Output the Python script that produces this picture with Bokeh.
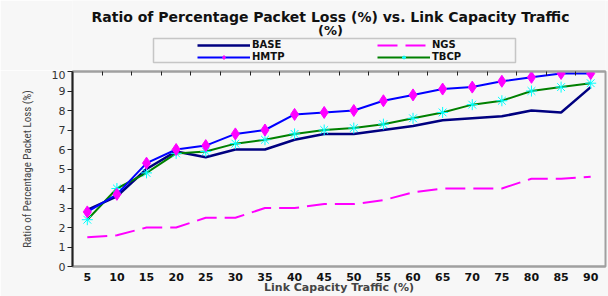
from bokeh.plotting import figure
from bokeh.layouts import column
from bokeh.models import (Range1d, LinearAxis, FixedTicker, Legend, LegendItem, Label,
                          BoxAnnotation)
from bokeh.embed import file_html
from bokeh.resources import INLINE

traffic = [5, 10, 15, 20, 25, 30, 35, 40, 45, 50, 55, 60, 65, 70, 75, 80, 85, 90]
base = [2.9, 3.6, 5.0, 5.9, 5.6, 6.0, 6.0, 6.5, 6.8, 6.8, 7.0, 7.2, 7.5, 7.6, 7.7, 8.0, 7.9, 9.2]
ngs = [1.5, 1.6, 2.0, 2.0, 2.5, 2.5, 3.0, 3.0, 3.2, 3.2, 3.4, 3.8, 4.0, 4.0, 4.0, 4.5, 4.5, 4.6]
hmtp = [2.8, 3.7, 5.3, 6.0, 6.2, 6.8, 7.0, 7.8, 7.9, 8.0, 8.5, 8.8, 9.1, 9.2, 9.5, 9.7, 9.9, 9.9]
tbcp = [2.4, 4.0, 4.8, 5.8, 5.9, 6.3, 6.5, 6.8, 7.0, 7.1, 7.3, 7.6, 7.9, 8.3, 8.5, 9.0, 9.2, 9.4]
series_names = ["BASE", "HMTP", "NGS", "TBCP"]
y_ticks = [0, 1, 2, 3, 4, 5, 6, 7, 8, 9, 10]
boundaries = [7.5, 12.5, 17.5, 22.5, 27.5, 32.5, 37.5, 42.5, 47.5, 52.5, 57.5, 62.5,
              67.5, 72.5, 77.5, 82.5, 87.5]
title_line1 = "Ratio of Percentage Packet Loss (%) vs. Link Capacity Traffic"
title_line2 = "(%)"
x_title = "Link Capacity Traffic (%)"
y_title = "Ratio of Percentage Packet Loss (%)"

BG = "#f7f7f7"
FONT = "DejaVu Sans"
TOP_H = 70
FRAME_L, FRAME_R = 72, 605

ngs_style = dict(color="#ff00ff", line_width=2, line_dash="20 8")
base_style = dict(color="#000080", line_width=2.5)
tbcp_style = dict(color="#008000", line_width=2)
tbcp_mk = dict(marker="asterisk", size=11, line_color="#00ffff", line_width=1)
hmtp_style = dict(color="#0000ff", line_width=2)
hmtp_mk = dict(marker="diamond", size=12, fill_color="#ff00ff", line_color="#ff00ff")

# ---------------- header figure: titles + legend ----------------
# its frame is aligned with the chart frame by the column layout, so the
# ranges below are simply page pixels
top = figure(width=608, height=TOP_H, output_backend="svg", toolbar_location=None,
             x_range=Range1d(FRAME_L, FRAME_R), y_range=Range1d(TOP_H, 0),
             x_axis_type=None, y_axis_type=None, title=None,
             min_border_left=FRAME_L, min_border_right=608 - FRAME_R, min_border_top=0,
             min_border_bottom=0)
top.background_fill_color = BG
top.border_fill_color = BG
top.outline_line_color = None
top.grid.visible = False

top.add_layout(Label(x=330, y=16, text=title_line1, text_align="center",
                     text_baseline="middle", text_font=FONT, text_font_size="14px",
                     text_font_style="bold", text_color="#111111"))
top.add_layout(Label(x=330, y=30, text=title_line2, text_align="center",
                     text_baseline="middle", text_font=FONT, text_font_size="13px",
                     text_font_style="bold", text_color="#111111"))

# legend keys: hidden copies of the series (only their legend swatches show)
k_base = top.line(traffic, base, visible=False, **base_style)
k_hmtp = top.line(traffic, hmtp, visible=False, **hmtp_style)
k_hmtp_m = top.scatter(traffic, hmtp, visible=False, **hmtp_mk)
k_ngs = top.line(traffic, ngs, visible=False, **ngs_style)
k_tbcp = top.line(traffic, tbcp, visible=False, **tbcp_style)
k_tbcp_m = top.scatter(traffic, tbcp, visible=False, **tbcp_mk)

legend = Legend(items=[
    LegendItem(label=series_names[0], renderers=[k_base]),
    LegendItem(label=series_names[1], renderers=[k_hmtp, k_hmtp_m]),
    LegendItem(label=series_names[2], renderers=[k_ngs]),
    LegendItem(label=series_names[3], renderers=[k_tbcp, k_tbcp_m]),
], ncols=2, location=(197 - FRAME_L, 8), border_line_color=None,
    background_fill_alpha=0, inactive_fill_alpha=0,
    glyph_width=53, glyph_height=10, label_height=10, label_width=124, spacing=1,
    label_standoff=2, label_text_font=FONT, label_text_font_size="10px",
    label_text_font_style="bold", label_text_color="#111111", margin=0, padding=0)
top.add_layout(legend, "center")
top.add_layout(BoxAnnotation(left=153, right=515, top=38, bottom=62, fill_alpha=0,
                             line_color="#555555", line_width=1.5))

# ---------------- main chart ----------------
p = figure(width=608, height=296 - TOP_H, output_backend="svg", toolbar_location=None,
           x_range=Range1d(2.5, 92.5), y_range=Range1d(0, 10), title=None,
           min_border_left=FRAME_L, min_border_right=608 - FRAME_R, min_border_top=1,
           min_border_bottom=29)
p.background_fill_color = BG
p.border_fill_color = BG
p.grid.visible = False
p.outline_line_color = "#a0a0a0"
p.outline_line_width = 2

xa = p.xaxis[0]
xa.ticker = FixedTicker(ticks=traffic)
xa.major_tick_out = 0
xa.major_tick_in = 0
xa.minor_tick_line_color = None
xa.axis_line_color = "#a0a0a0"
xa.axis_line_width = 2
xa.major_label_text_font = FONT
xa.major_label_text_font_size = "11px"
xa.major_label_text_font_style = "bold"
xa.major_label_text_color = "#111111"
xa.major_label_standoff = 6
xa.axis_label = x_title
xa.axis_label_text_font = FONT
xa.axis_label_text_font_size = "11px"
xa.axis_label_text_font_style = "bold"
xa.axis_label_standoff = -3

ya = p.yaxis[0]
ya.ticker = FixedTicker(ticks=y_ticks)
ya.major_tick_out = 5
ya.major_tick_in = 0
ya.minor_tick_line_color = None
ya.axis_line_color = "#222222"
ya.axis_line_width = 2
ya.major_tick_line_color = "#222222"
ya.major_label_text_font = FONT
ya.major_label_text_font_size = "11px"
ya.major_label_text_color = "#333333"
ya.major_label_standoff = 2
ya.axis_label = y_title
ya.axis_label_text_font = "Liberation Sans Narrow, Roboto Condensed, Liberation Sans"
ya.axis_label_text_font_size = "11px"
ya.axis_label_text_font_style = "normal"
ya.axis_label_standoff = 15

ta = LinearAxis(ticker=FixedTicker(ticks=boundaries),
                major_tick_in=4, major_tick_out=0, minor_tick_line_color=None,
                major_tick_line_color="#222222", axis_line_color="#a0a0a0",
                axis_line_width=2, major_label_standoff=0,
                major_label_text_color=None, major_label_text_font_size="1px")
p.add_layout(ta, "above")

p.line(traffic, ngs, **ngs_style)
p.line(traffic, base, **base_style)
p.line(traffic, tbcp, **tbcp_style)
p.scatter(traffic, tbcp, **tbcp_mk)
p.line(traffic, hmtp, **hmtp_style)
p.scatter(traffic, hmtp, **hmtp_mk)

layout = column(top, p, spacing=0)
open("out.html", "w").write(file_html(layout, INLINE))
